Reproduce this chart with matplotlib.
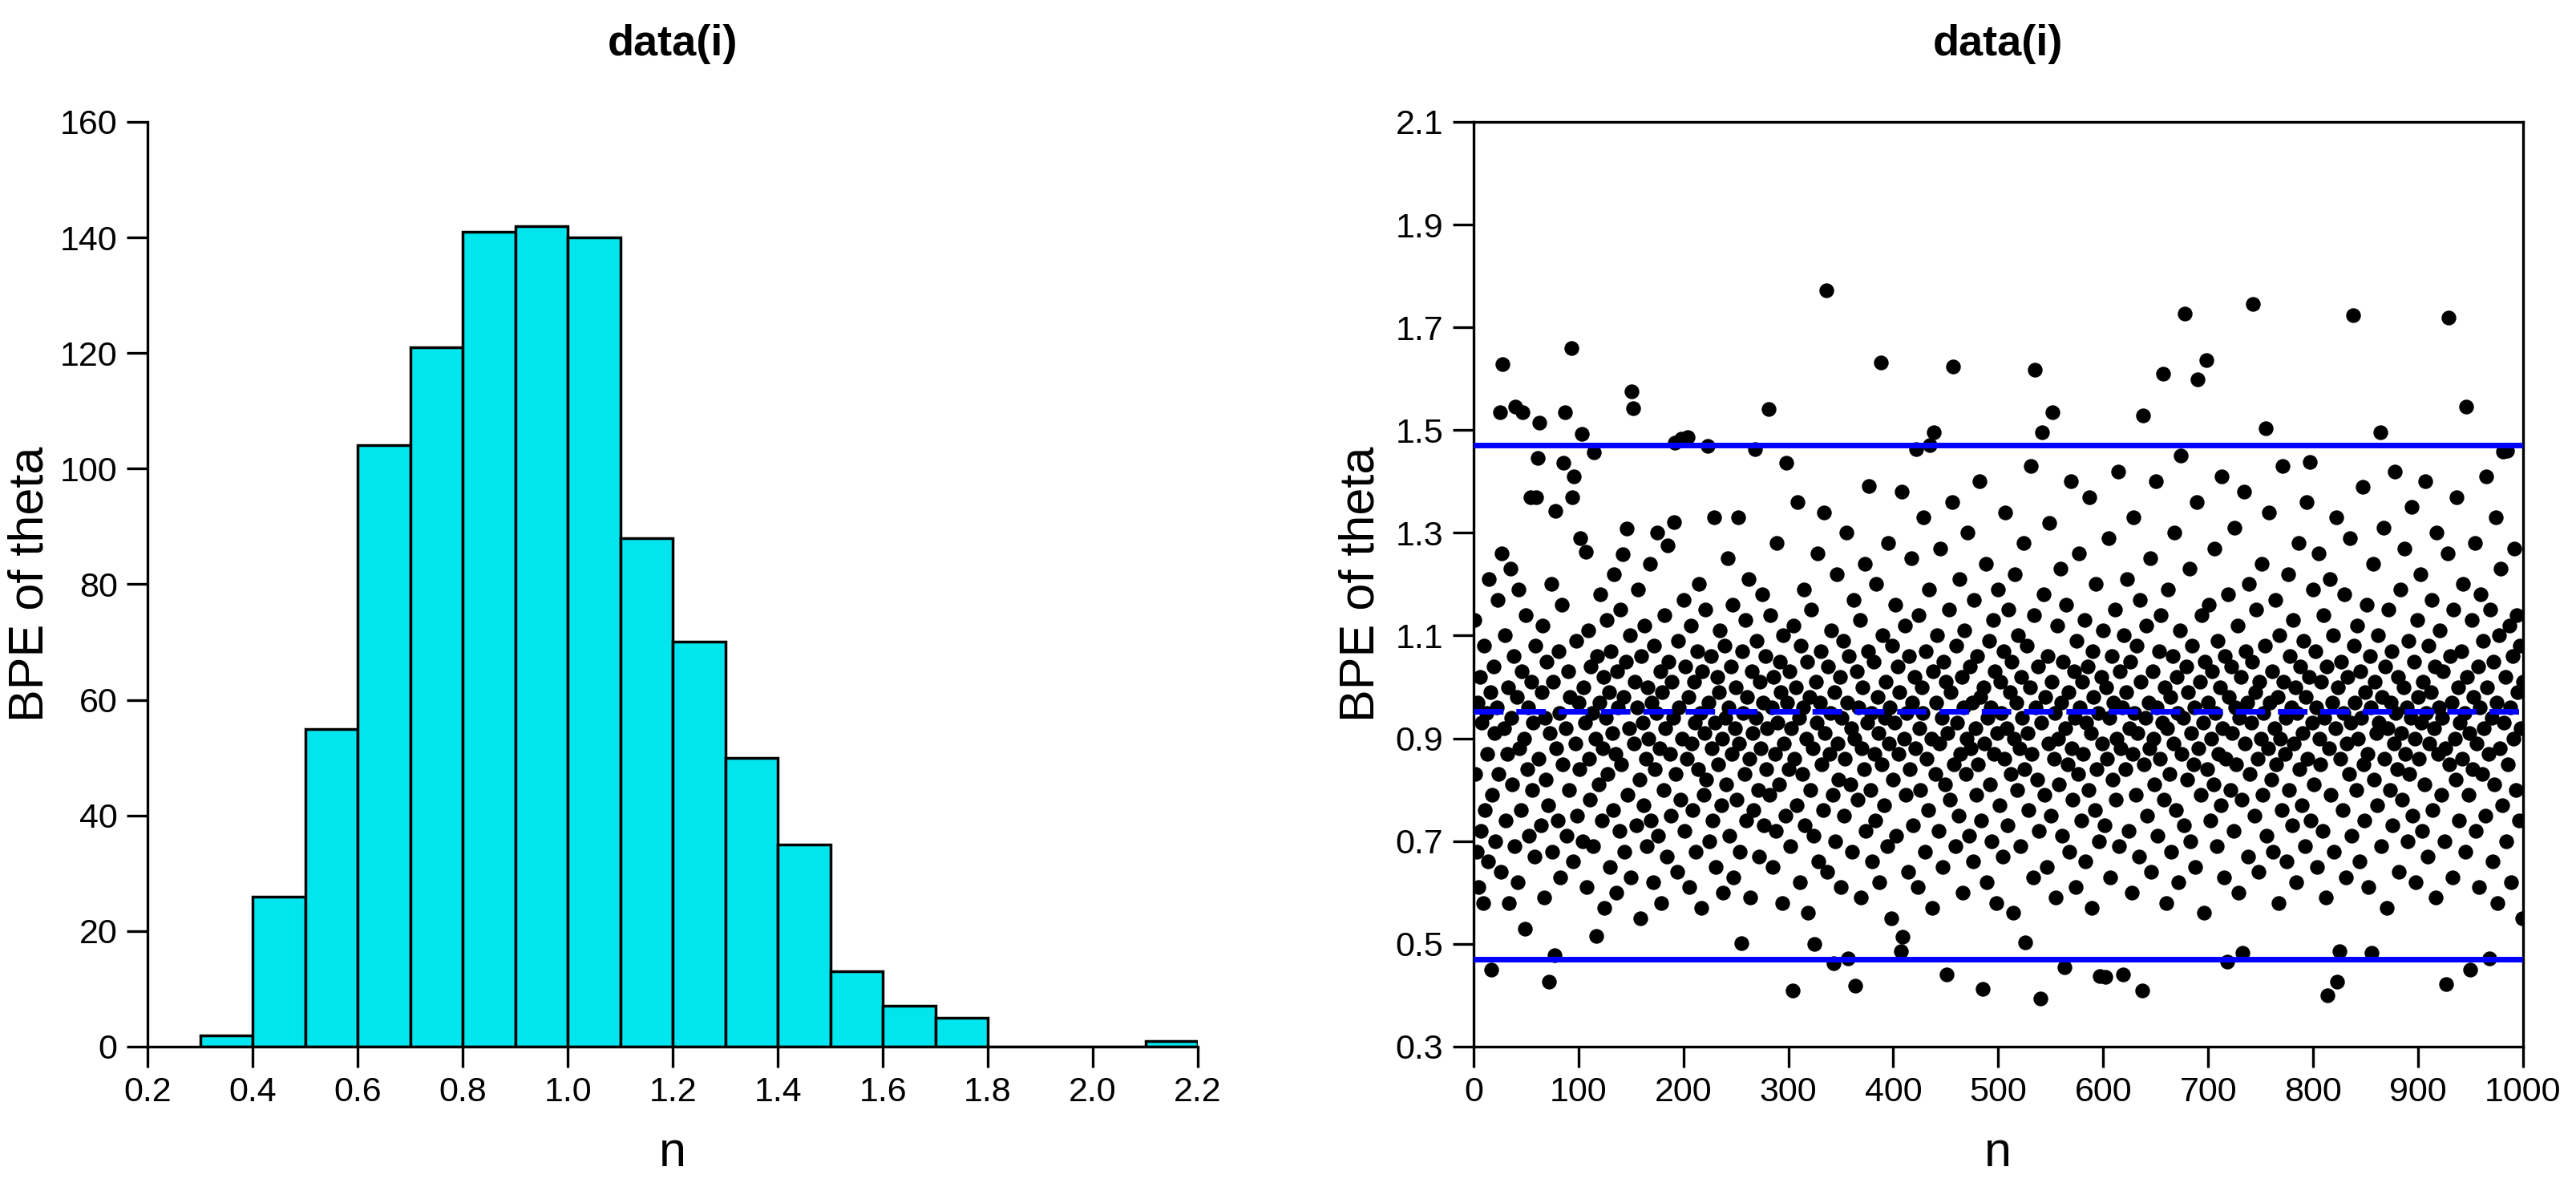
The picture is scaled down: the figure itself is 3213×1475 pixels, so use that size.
import matplotlib
matplotlib.use('Agg')
import matplotlib.pyplot as plt

plt.rcParams['font.family'] = ['Liberation Sans', 'DejaVu Sans']
narrow = ['Liberation Sans Narrow', 'Liberation Sans', 'DejaVu Sans']

# histogram of the BPE values (bin left edges, bin width 0.1)
bin_left = [0.3, 0.4, 0.5, 0.6, 0.7, 0.8, 0.9, 1.0, 1.1, 1.2,
            1.3, 1.4, 1.5, 1.6, 1.7, 1.8, 1.9, 2.0, 2.1]
counts = [2, 26, 55, 104, 121, 141, 142, 140, 88, 70,
          50, 35, 13, 7, 5, 0, 0, 0, 1]

# BPE of theta for each sample n = 1..1000
bpe = [
    1.13, 0.83, 0.68, 0.97, 0.61, 1.02, 0.72, 0.93, 0.58, 1.08, 0.76, 0.95, 0.87, 0.66, 1.21, 0.99, 0.45, 0.79, 1.04, 0.91,
    0.70, 0.96, 1.17, 0.83, 1.535, 0.64, 1.26, 1.628, 0.92, 1.10, 0.74, 0.87, 1.00, 0.58, 1.23, 0.94, 0.81, 1.06, 0.69, 1.545,
    0.98, 0.62, 1.19, 0.88, 0.76, 1.03, 1.535, 0.90, 0.53, 1.14, 0.84, 0.96, 0.71, 1.37, 1.01, 0.80, 0.93, 0.67, 1.08, 1.369,
    1.445, 0.86, 1.515, 0.73, 0.99, 1.12, 0.59, 0.94, 0.82, 1.05, 0.77, 0.427, 0.91, 1.20, 0.68, 1.01, 0.478, 1.343, 0.88, 0.74,
    1.07, 0.95, 0.63, 1.16, 0.85, 1.437, 1.535, 0.92, 0.71, 1.03, 0.80, 0.98, 1.659, 1.369, 0.66, 1.41, 0.89, 1.09, 0.75, 0.97,
    0.84, 1.29, 1.492, 0.70, 1.00, 0.93, 1.263, 0.61, 1.11, 0.86, 0.78, 1.04, 0.95, 0.69, 1.457, 0.90, 0.515, 1.06, 0.81, 0.97,
    1.18, 0.74, 0.88, 1.02, 0.57, 0.94, 1.13, 0.83, 0.99, 0.65, 1.07, 0.91, 0.76, 1.22, 0.87, 0.60, 1.03, 0.96, 0.72, 1.15,
    0.85, 1.258, 0.98, 0.68, 1.05, 1.309, 0.79, 0.92, 1.10, 0.63, 1.575, 1.542, 0.89, 1.01, 0.73, 0.96, 1.19, 0.82, 0.55, 1.06,
    0.93, 0.77, 1.12, 0.86, 0.69, 1.00, 0.90, 1.24, 0.74, 0.97, 0.62, 1.08, 0.84, 0.95, 1.30, 0.71, 0.88, 1.03, 0.58, 0.99,
    0.80, 1.14, 0.92, 0.67, 1.275, 1.05, 0.87, 0.75, 1.01, 0.94, 1.321, 1.475, 0.83, 0.64, 1.09, 0.96, 0.78, 1.484, 0.90, 1.17,
    0.72, 1.04, 0.86, 1.487, 0.98, 0.61, 1.12, 0.89, 0.76, 1.01, 0.93, 0.68, 1.07, 0.84, 1.20, 0.95, 0.57, 1.03, 0.79, 0.91,
    1.15, 0.82, 1.469, 0.97, 0.70, 1.06, 0.88, 0.74, 1.33, 0.93, 0.65, 1.02, 0.85, 0.99, 1.11, 0.77, 0.90, 0.60, 1.08, 0.94,
    0.81, 1.25, 0.96, 0.71, 1.04, 0.87, 1.16, 0.63, 0.92, 1.00, 0.78, 1.33, 0.89, 0.68, 0.502, 1.07, 0.95, 0.83, 1.13, 0.74,
    0.98, 1.21, 0.86, 0.59, 1.03, 0.91, 0.76, 1.463, 0.94, 1.09, 0.80, 0.67, 1.01, 0.88, 1.18, 0.97, 0.73, 1.06, 0.84, 0.92,
    1.541, 0.79, 1.14, 0.96, 0.65, 1.02, 0.87, 0.72, 1.28, 0.93, 0.81, 1.05, 0.99, 0.58, 1.10, 0.89, 0.75, 1.437, 0.97, 0.84,
    1.03, 0.69, 0.92, 0.409, 1.12, 0.86, 1.00, 0.77, 1.36, 0.94, 0.62, 1.08, 0.83, 0.96, 1.19, 0.73, 0.90, 1.05, 0.56, 0.98,
    0.80, 1.15, 0.88, 0.71, 0.50, 1.01, 0.93, 1.26, 0.66, 0.97, 1.07, 0.85, 0.76, 1.34, 0.91, 1.772, 0.64, 1.04, 0.87, 0.95,
    1.11, 0.79, 0.462, 0.99, 0.70, 1.22, 0.89, 0.82, 1.02, 0.61, 0.94, 1.09, 0.75, 0.86, 1.30, 0.97, 0.472, 1.06, 0.81, 0.92,
    0.68, 1.17, 0.90, 0.419, 1.03, 0.78, 0.96, 1.13, 0.59, 0.88, 1.00, 0.84, 1.24, 0.72, 0.93, 1.07, 1.391, 0.80, 0.95, 0.66,
    1.05, 0.87, 0.74, 1.20, 0.98, 0.91, 0.62, 1.632, 0.85, 1.10, 0.77, 0.94, 1.01, 0.69, 1.28, 0.89, 0.96, 0.55, 1.08, 0.82,
    0.93, 1.16, 0.71, 1.04, 0.87, 0.99, 0.486, 1.38, 0.514, 0.90, 1.12, 0.79, 0.95, 0.64, 1.06, 0.84, 1.25, 0.97, 0.73, 1.02,
    0.88, 1.463, 0.61, 1.14, 0.92, 0.80, 1.00, 0.95, 1.33, 0.68, 1.07, 0.86, 0.76, 1.19, 1.471, 0.90, 0.57, 1.03, 1.496, 0.83,
    0.97, 1.10, 0.72, 0.89, 1.27, 0.94, 0.65, 1.05, 0.81, 1.01, 0.441, 0.91, 1.15, 0.78, 0.99, 1.36, 1.624, 0.85, 0.69, 1.08,
    0.93, 0.75, 1.21, 0.87, 1.02, 0.60, 0.96, 1.11, 0.83, 0.90, 1.30, 0.71, 1.04, 0.88, 0.97, 0.66, 1.17, 0.92, 0.79, 1.06,
    0.85, 1.40, 0.98, 0.74, 0.412, 1.00, 0.89, 1.24, 0.62, 0.94, 1.09, 0.81, 0.96, 0.70, 1.13, 0.87, 1.03, 0.58, 0.91, 1.19,
    0.77, 1.01, 0.95, 0.67, 1.07, 0.86, 1.34, 0.92, 0.73, 1.15, 0.99, 0.83, 1.05, 0.56, 0.90, 1.22, 0.97, 0.80, 1.10, 0.88,
    0.69, 1.02, 0.94, 1.28, 0.84, 0.503, 1.08, 0.91, 0.76, 1.00, 1.43, 0.87, 0.63, 1.14, 1.618, 0.96, 0.82, 1.04, 0.72, 0.394,
    0.93, 1.496, 1.18, 0.79, 0.98, 0.65, 1.06, 0.89, 1.32, 0.75, 1.01, 1.535, 0.86, 0.95, 0.59, 1.12, 0.90, 0.81, 1.23, 0.97,
    0.71, 1.05, 0.454, 0.92, 1.16, 0.85, 0.99, 0.68, 1.40, 0.88, 0.78, 1.03, 0.94, 0.61, 1.09, 0.83, 1.26, 0.96, 0.74, 1.01,
    0.87, 1.13, 0.66, 0.93, 1.04, 0.80, 1.37, 0.91, 0.57, 1.07, 0.98, 0.76, 1.20, 0.84, 0.95, 0.70, 0.437, 1.02, 0.89, 1.11,
    0.73, 0.435, 1.00, 0.86, 1.29, 0.94, 0.63, 1.06, 0.82, 0.97, 1.15, 0.78, 0.90, 1.42, 0.69, 1.03, 0.88, 0.96, 0.441, 1.10,
    0.84, 0.99, 1.21, 0.72, 0.92, 1.05, 0.60, 0.87, 1.33, 0.95, 0.79, 1.08, 0.91, 0.67, 1.17, 1.01, 0.409, 1.528, 0.85, 0.94,
    1.12, 0.75, 0.97, 0.88, 1.25, 0.64, 1.03, 0.90, 0.81, 1.40, 0.96, 0.71, 1.07, 0.86, 1.14, 0.93, 1.61, 0.78, 1.00, 0.58,
    0.92, 1.19, 0.83, 0.98, 0.68, 1.06, 0.89, 1.30, 0.76, 1.02, 0.95, 0.62, 1.11, 1.451, 0.87, 0.94, 0.73, 1.727, 1.04, 0.82,
    0.99, 1.23, 0.70, 0.91, 1.08, 0.85, 0.96, 0.65, 1.36, 1.598, 0.88, 1.01, 0.79, 1.14, 0.93, 0.56, 1.05, 1.636, 0.84, 0.97,
    1.16, 0.74, 0.90, 1.03, 0.81, 1.27, 0.95, 0.69, 1.09, 0.87, 1.00, 0.77, 1.41, 0.92, 0.63, 1.06, 0.86, 0.465, 1.18, 0.98,
    0.80, 1.04, 0.91, 0.72, 1.31, 0.96, 0.85, 1.12, 0.60, 0.94, 1.02, 0.78, 0.483, 1.38, 0.89, 1.07, 0.97, 0.67, 1.20, 0.83,
    0.93, 1.05, 1.746, 0.75, 0.99, 1.15, 0.86, 0.64, 1.01, 0.90, 1.24, 0.79, 0.95, 1.08, 1.503, 0.71, 0.88, 1.34, 0.97, 0.82,
    1.03, 0.68, 0.92, 1.17, 0.85, 0.98, 0.58, 1.10, 0.90, 0.76, 1.43, 1.01, 0.87, 0.94, 0.66, 1.22, 0.80, 1.06, 0.96, 0.73,
    1.13, 0.89, 1.00, 0.62, 0.95, 1.28, 0.84, 1.04, 0.77, 0.91, 1.09, 0.69, 0.98, 1.36, 0.86, 1.02, 1.438, 0.74, 0.93, 1.19,
    0.81, 1.07, 0.96, 0.65, 1.26, 0.90, 0.85, 1.01, 0.72, 1.14, 0.94, 0.59, 1.04, 0.40, 0.88, 1.21, 0.79, 0.97, 1.10, 0.68,
    0.92, 1.33, 0.427, 1.00, 0.486, 0.86, 1.05, 0.76, 0.95, 1.18, 0.63, 0.89, 1.02, 0.83, 1.29, 0.93, 0.71, 1.723, 1.08, 0.97,
    0.80, 1.12, 0.90, 0.66, 1.03, 0.94, 1.39, 0.85, 0.74, 0.99, 1.16, 0.87, 0.61, 1.06, 0.96, 0.483, 1.24, 0.82, 1.01, 0.91,
    0.77, 1.10, 0.93, 1.496, 0.69, 0.98, 1.31, 0.86, 1.04, 0.57, 0.92, 1.15, 0.80, 0.97, 1.07, 0.73, 0.89, 1.42, 0.95, 0.84,
    1.02, 0.64, 1.19, 0.91, 0.78, 1.00, 1.27, 0.87, 0.96, 0.70, 1.09, 0.83, 0.94, 1.35, 0.75, 1.05, 0.90, 0.62, 1.13, 0.98,
    0.86, 1.22, 0.93, 0.72, 1.01, 0.81, 1.40, 0.95, 0.67, 1.08, 0.89, 0.99, 1.17, 0.76, 0.92, 1.04, 0.59, 1.30, 0.87, 0.96,
    1.11, 0.79, 0.94, 1.03, 0.70, 0.88, 0.422, 1.26, 1.719, 0.85, 1.06, 0.97, 0.63, 1.15, 0.90, 0.82, 1.37, 1.00, 0.74, 0.93,
    1.07, 0.86, 1.20, 0.95, 0.68, 1.545, 1.02, 0.79, 0.91, 0.45, 1.13, 0.84, 0.98, 1.28, 0.72, 0.89, 1.04, 0.61, 0.96, 1.18,
    0.83, 1.09, 0.92, 0.75, 1.41, 1.00, 0.87, 0.472, 1.15, 0.94, 0.66, 1.05, 0.81, 1.33, 0.97, 0.58, 1.10, 0.88, 1.23, 0.77,
    1.458, 0.93, 1.02, 0.70, 1.46, 0.85, 1.12, 0.96, 0.62, 1.06, 0.90, 1.27, 0.80, 1.14, 0.99, 0.74, 1.08, 0.92, 0.55, 1.01,
]
n = list(range(1, len(bpe) + 1))

bpe_mean = 0.953
bpe_upper = 1.47
bpe_lower = 0.47

hist_xticks = [0.2, 0.4, 0.6, 0.8, 1.0, 1.2, 1.4, 1.6, 1.8, 2.0, 2.2]
hist_yticks = [0, 20, 40, 60, 80, 100, 120, 140, 160]
sc_xticks = [0, 100, 200, 300, 400, 500, 600, 700, 800, 900, 1000]
sc_yticks = [0.3, 0.5, 0.7, 0.9, 1.1, 1.3, 1.5, 1.7, 1.9, 2.1]

fig = plt.figure(figsize=(32.13, 14.75), dpi=100)
ax1 = fig.add_axes([0.0573, 0.1153, 0.4077, 0.7817])
ax2 = fig.add_axes([0.5720, 0.1153, 0.4074, 0.7817])

blue = '#0000ff'
cyan = '#00e5ee'

# ---- left: histogram
ax1.bar(bin_left, counts, width=0.1, align='edge', color=cyan,
        edgecolor='black', linewidth=2.5)
ax1.set_xlim(0.2, 2.2)
ax1.set_ylim(0, 160)
ax1.set_xticks(hist_xticks)
ax1.set_xticklabels(['%.1f' % v for v in hist_xticks])
ax1.set_yticks(hist_yticks)
ax1.set_yticklabels([str(v) for v in hist_yticks])
ax1.spines['top'].set_visible(False)
ax1.spines['right'].set_visible(False)
ax1.set_title('data(i)', fontsize=39, fontweight='bold', pad=60)
ax1.set_xlabel('n', fontsize=44, labelpad=20)
ax1.set_ylabel('BPE of theta', fontsize=44, labelpad=6)

# ---- right: scatter with mean and bounds (lines drawn over the dots)
ax2.scatter(n, bpe, s=150, color='black', zorder=2)
ax2.axhline(bpe_upper, color=blue, linewidth=5, zorder=3)
ax2.axhline(bpe_lower, color=blue, linewidth=5, zorder=3)
ax2.axhline(bpe_mean, color=blue, linewidth=5, dashes=(5.3, 2.3), zorder=3)
ax2.set_xlim(0, 1000)
ax2.set_ylim(0.3, 2.1)
ax2.set_xticks(sc_xticks)
ax2.set_xticklabels([str(v) for v in sc_xticks])
ax2.set_yticks(sc_yticks)
ax2.set_yticklabels(['%.1f' % v for v in sc_yticks])
ax2.set_title('data(i)', fontsize=39, fontweight='bold', pad=60)
ax2.set_xlabel('n', fontsize=44, labelpad=20)
ax2.set_ylabel('BPE of theta', fontsize=44, labelpad=10)

for ax in (ax1, ax2):
    for sp in ax.spines.values():
        sp.set_linewidth(2.4)
    ax.tick_params(direction='out', length=19, width=2.4, labelsize=31, pad=8)
    for lab in ax.get_xticklabels() + ax.get_yticklabels():
        lab.set_fontfamily(narrow)

fig.savefig('out.png', dpi=100, facecolor='white')
